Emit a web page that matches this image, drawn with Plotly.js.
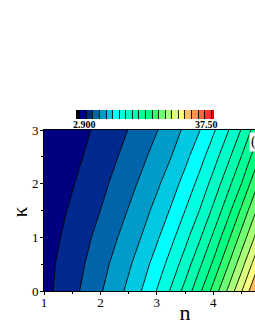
<!DOCTYPE html>
<html><head><meta charset="utf-8">
<script src="https://cdn.plot.ly/plotly-3.0.1.min.js"></script>
<style>html,body{margin:0;padding:0;overflow:hidden;background:#fff;width:255px;height:330px}</style>
</head><body><div id="chart" style="width:340px;height:330px"></div>
<script>
// n axis grid and kappa axis grid
const nValues = [1.00,1.25,1.50,1.75,2.00,2.25,2.50,2.75,3.00,3.25,3.50,3.75,4.00,4.25,4.50,4.75,5.00];
const kappaValues = [0,0.5,1,1.5,2,2.5,3];
// field values, one row per kappa value
const zKappa00 = [5.56,6.32,7.15,8.04,9.03,10.04,11.13,12.46,13.97,15.64,17.57,19.76,22.29,25.03,27.94,31.08,34.35];
const zKappa05 = [5.49,6.18,6.94,7.70,8.61,9.54,10.52,11.69,13.03,14.51,16.19,18.23,20.46,23.08,25.87,28.85,32.06];
const zKappa10 = [5.34,5.93,6.62,7.33,8.12,8.98,9.91,10.89,12.10,13.48,14.99,16.76,18.89,21.25,23.91,26.73,29.77];
const zKappa15 = [5.18,5.69,6.26,6.94,7.62,8.44,9.27,10.21,11.26,12.48,13.90,15.45,17.36,19.54,22.04,24.75,27.64];
const zKappa20 = [5.02,5.48,5.94,6.55,7.21,7.91,8.70,9.54,10.48,11.60,12.88,14.34,16.01,18.02,20.20,22.82,25.59];
const zKappa25 = [4.87,5.29,5.70,6.16,6.80,7.44,8.16,8.92,9.79,10.73,11.92,13.27,14.81,16.57,18.67,20.99,23.63];
const zKappa30 = [4.71,5.10,5.50,5.89,6.41,7.03,7.66,8.39,9.12,10.04,11.04,12.23,13.67,15.29,17.15,19.33,21.78];
// colour scale range and band colours
const zMin = 2.9;
const zMax = 37.5;
const bandColors = ['#000000','#000080','#00288f','#0064aa','#009bc8','#00c8e1','#00ffff','#00ffe1','#00ffc8','#00ffaf','#00ff96','#00ff80','#32ff6e','#6eff73','#aaff78','#dcff80','#ffff82','#ffbe64','#ff9650','#ff643c','#ff3228','#eb0000'];
const xTickVals = [1,2,3,4];
const yTickVals = [0,1,2,3];

const nBands = bandColors.length;
const step = (zMax - zMin) / nBands;
const colorscale = bandColors.map((c, i) => [i / (nBands - 1), c]);
const serif = 'Liberation Serif, Times New Roman, serif';

const trace = {
  type: 'contour',
  x: nValues,
  y: kappaValues,
  z: [zKappa00, zKappa05, zKappa10, zKappa15, zKappa20, zKappa25, zKappa30],
  colorscale: colorscale,
  autocontour: false,
  contours: {start: zMin + step, end: zMax - step, size: step, coloring: 'fill', showlines: true},
  line: {color: '#000', width: 0.9, smoothing: 0},
  colorbar: {
    orientation: 'h', x: 0.358, xanchor: 'center', y: 1.068, yanchor: 'bottom',
    len: 138, lenmode: 'pixels', thickness: 9, thicknessmode: 'pixels',
    outlinewidth: 0, xpad: 0, ypad: 0, showticklabels: false, ticks: ''
  },
  hoverinfo: 'skip'
};

const axisCommon = {
  showline: true, linecolor: '#000', linewidth: 1, mirror: true,
  ticks: 'outside', ticklen: 3, tickcolor: '#000', tickwidth: 1,
  showgrid: false, zeroline: false,
  tickfont: {family: serif, size: 13, color: '#000'},
  minor: {ticks: 'outside', ticklen: 2, tickcolor: '#000', dtick: 0.5, showgrid: false}
};

const layout = {
  width: 340, height: 330,
  margin: {l: 44, r: 14, t: 130, b: 39},
  paper_bgcolor: '#fff', plot_bgcolor: '#fff',
  showlegend: false,
  xaxis: Object.assign({}, axisCommon, {
    range: [1, 6], tickvals: xTickVals, ticktext: xTickVals.map(String),
    ticklabelstandoff: -4,
    minor: Object.assign({}, axisCommon.minor, {tick0: 1}),
    title: {text: 'n', font: {family: serif, size: 22, color: '#000'}, standoff: 0}
  }),
  yaxis: Object.assign({}, axisCommon, {
    range: [0, 3], tickvals: yTickVals, ticktext: yTickVals.map(String),
    ticklabelstandoff: -1,
    minor: Object.assign({}, axisCommon.minor, {tick0: 0})
  }),
  annotations: [
    {text: 'κ', xref: 'paper', yref: 'paper', x: -0.085, y: 0.49, showarrow: false, textangle: -90,
     font: {family: serif, size: 21, color: '#000'}, xanchor: 'center', yanchor: 'middle'},
    {text: '<b>2.900</b>', xref: 'paper', yref: 'paper', x: 0.142, y: 1.037, showarrow: false,
     font: {family: serif, size: 10, color: '#000'}, xanchor: 'center', yanchor: 'middle'},
    {text: '<b>37.50</b>', xref: 'paper', yref: 'paper', x: 0.578, y: 1.037, showarrow: false,
     font: {family: serif, size: 10, color: '#000'}, xanchor: 'center', yanchor: 'middle'},
    {text: '(a)', xref: 'paper', yref: 'paper', x: 0.727, y: 0.985, showarrow: false,
     font: {family: serif, size: 14, color: '#000'}, xanchor: 'left', yanchor: 'top',
     bgcolor: '#fff', borderpad: 1}
  ]
};

Plotly.newPlot('chart', [trace], layout, {displayModeBar: false, staticPlot: true});
</script></body></html>
